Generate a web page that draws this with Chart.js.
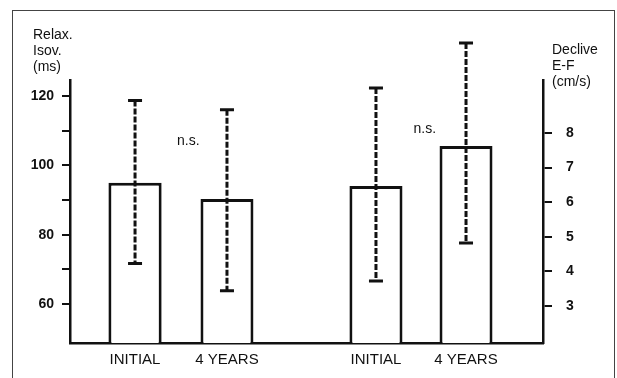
<!DOCTYPE html>
<html>
<head>
<meta charset="utf-8">
<script src="https://cdn.jsdelivr.net/npm/chart.js@4"></script>
<style>
  body { margin: 0; background: #fff; }
  #wrap { position: relative; width: 617px; height: 378px; overflow: hidden; }
  #frame { position: absolute; left: 12px; top: 10px; width: 601px; height: 380px;
           border: 1px solid #444; border-bottom: none; pointer-events: none; }
  canvas { position: absolute; left: 0; top: 0; }
</style>
</head>
<body>
<div id="wrap">
  <div id="frame"></div>
  <canvas id="chart" width="617" height="378"></canvas>
</div>
<script>
// groupes (un par axe) et périodes
const GROUPS = ['Relax. Isov.', 'Declive E-F'];
const PERIODS = ['INITIAL', '4 YEARS'];

// Relax. Isov. (ms) - axe gauche
const RELAX_MEAN = [95, 90.3];
const RELAX_LOW = [71.7, 63.8];
const RELAX_HIGH = [118.7, 116];

// Declive E-F (cm/s) - axe droit
const DECL_MEAN = [6.47, 7.62];
const DECL_LOW = [3.72, 4.82];
const DECL_HIGH = [9.3, 10.6];

// position des "n.s." (valeur sur l'axe du groupe)
const NS_LEVEL = [107, 8.1];

const AXIS_TITLES = [['Relax.', 'Isov.', '(ms)'], ['Declive', 'E-F', '(cm/s)']];

const INK = '#111';
const FONT = 'Liberation Sans, Arial, sans-serif';

Chart.defaults.font.family = FONT;
Chart.defaults.color = INK;

// un dataset par barre, avec null dans l'autre groupe
function makeDataset(groupIdx, periodIdx, catPct, barPct) {
    const mean = groupIdx === 0 ? RELAX_MEAN : DECL_MEAN;
    const data = GROUPS.map((g, i) => (i === groupIdx ? mean[periodIdx] : null));
    return {
        label: PERIODS[periodIdx],
        data: data,
        yAxisID: groupIdx === 0 ? 'y' : 'y2',
        low: (groupIdx === 0 ? RELAX_LOW : DECL_LOW)[periodIdx],
        high: (groupIdx === 0 ? RELAX_HIGH : DECL_HIGH)[periodIdx],
        backgroundColor: '#fff',
        borderColor: INK,
        borderWidth: 3,
        skipNull: true,
        categoryPercentage: catPct,
        barPercentage: barPct
    };
}

// barres d'erreur en pointillés + capuchons
const errorBars = {
    id: 'errorBars',
    afterDatasetsDraw(chart) {
        const ctx = chart.ctx;
        ctx.save();
        ctx.strokeStyle = INK;
        chart.data.datasets.forEach((ds, di) => {
            const meta = chart.getDatasetMeta(di);
            const yScale = chart.scales[ds.yAxisID];
            ds.data.forEach((v, i) => {
                if (v === null) return;
                const x = meta.data[i].x;
                const yTop = yScale.getPixelForValue(ds.high);
                const yBot = yScale.getPixelForValue(ds.low);
                ctx.lineWidth = 3;
                ctx.setLineDash([6, 2]);
                ctx.beginPath();
                ctx.moveTo(x, yTop);
                ctx.lineTo(x, yBot);
                ctx.stroke();
                ctx.setLineDash([]);
                ctx.beginPath();
                ctx.moveTo(x - 7, yTop); ctx.lineTo(x + 7, yTop);
                ctx.moveTo(x - 7, yBot); ctx.lineTo(x + 7, yBot);
                ctx.stroke();
            });
        });
        ctx.restore();
    }
};

// textes: titres d'axes, libellés sous les barres, n.s.
const texts = {
    id: 'texts',
    afterDraw(chart) {
        const ctx = chart.ctx;
        const area = chart.chartArea;
        const xScale = chart.scales.x;
        ctx.save();
        ctx.fillStyle = INK;
        ctx.textBaseline = 'middle';

        ctx.font = '14px ' + FONT;
        ctx.textAlign = 'left';
        AXIS_TITLES[0].forEach((t, k) => ctx.fillText(t, area.left - 37, area.top - 45 + k * 16));
        AXIS_TITLES[1].forEach((t, k) => ctx.fillText(t, area.right + 9, area.top - 30 + k * 16));

        ctx.textAlign = 'center';
        ctx.font = '15px ' + FONT;
        chart.data.datasets.forEach((ds, di) => {
            const meta = chart.getDatasetMeta(di);
            ds.data.forEach((v, i) => {
                if (v === null) return;
                ctx.fillText(ds.label, meta.data[i].x, xScale.bottom - 18);
            });
        });

        ctx.font = '14px ' + FONT;
        GROUPS.forEach((g, i) => {
            const yScale = chart.scales[i === 0 ? 'y' : 'y2'];
            ctx.fillText('n.s.', xScale.getPixelForValue(i), yScale.getPixelForValue(NS_LEVEL[i]));
        });
        ctx.restore();
    }
};

const axisLine = { display: true, color: INK, width: 2.5 };
const tickGrid = { display: true, drawOnChartArea: false, drawTicks: true, tickLength: 8, color: INK, lineWidth: 2 };

new Chart(document.getElementById('chart'), {
    type: 'bar',
    data: {
        labels: GROUPS,
        datasets: [
            makeDataset(0, 0, 0.90, 0.50),
            makeDataset(0, 1, 0.655, 0.684),
            makeDataset(1, 0, 0.825, 0.544),
            makeDataset(1, 1, 0.698, 0.642)
        ]
    },
    options: {
        responsive: false,
        animation: false,
        layout: { padding: { top: 80, left: 0, right: 0, bottom: 0 } },
        plugins: { legend: { display: false }, tooltip: { enabled: false } },
        scales: {
            x: {
                type: 'category',
                grid: { display: false },
                border: axisLine,
                ticks: { display: false },
                afterFit(scale) { scale.height = 35; }
            },
            y: {
                position: 'left',
                min: 48.75,
                max: 124.6,
                border: axisLine,
                grid: tickGrid,
                ticks: {
                    stepSize: 10,
                    includeBounds: false,
                    padding: 8,
                    font: { size: 14, weight: 'bold' },
                    callback: v => (v < 60 ? null : (v % 20 === 0 ? v : ''))
                },
                afterFit(scale) { scale.width = 70; }
            },
            y2: {
                position: 'right',
                min: 1.93,
                max: 9.53,
                border: axisLine,
                grid: Object.assign({}, tickGrid, { tickLength: 9 }),
                ticks: {
                    stepSize: 1,
                    includeBounds: false,
                    padding: 14,
                    font: { size: 14, weight: 'bold' },
                    callback: v => (v >= 3 && v <= 8 ? v : null)
                },
                afterFit(scale) { scale.width = 74; }
            }
        }
    },
    plugins: [errorBars, texts]
});
</script>
</body>
</html>
